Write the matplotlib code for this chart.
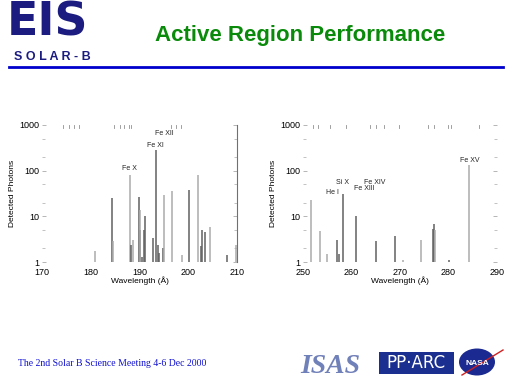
import matplotlib
matplotlib.use("Agg")
import matplotlib.pyplot as plt
from matplotlib.patches import Rectangle, Circle

plt.rcParams['font.family'] = ['Liberation Sans', 'DejaVu Sans']

# ---- data: left panel (170-210 A) ----
left_wl = [180.8, 184.4, 184.6, 188.1, 188.2, 188.7, 189.9, 190.0, 190.1, 190.5,
           191.0, 191.2, 192.8, 193.4, 193.7, 194.1, 194.9, 195.1, 196.6, 198.7,
           200.1, 202.1, 202.6, 202.8, 203.4, 204.5, 207.9, 209.7]
left_cnt = [1.7, 25, 2.9, 80, 2.4, 3.1, 26, 4.9, 14, 1.3,
            4.9, 10.3, 3.4, 280, 2.3, 1.6, 2.0, 29, 36, 1.4,
            38, 80, 2.2, 5.0, 4.6, 5.9, 1.4, 2.3]
left_shade = ['l', 'd', 'l', 'l', 'd', 'l', 'd', 'd', 'l', 'd',
              'd', 'd', 'd', 'd', 'd', 'd', 'd', 'l', 'l', 'l',
              'd', 'l', 'd', 'd', 'd', 'l', 'd', 'l']
left_labels = ['Fe X', 'Fe XI', 'Fe XII']
left_label_wl = [187.9, 193.2, 195.0]
left_label_y = [110, 360, 650]
left_top_marks = [174.4, 175.5, 176.5, 177.5, 184.8, 185.9, 186.9, 187.8, 188.2, 196.5, 197.4, 198.5]

# ---- data: right panel (250-290 A) ----
right_wl = [251.7, 253.6, 254.9, 257.0, 257.4, 258.3, 261.0, 265.0, 268.9, 274.3,
            276.9, 277.1, 277.3, 284.3, 280.0, 270.7]
right_cnt = [23, 4.8, 1.5, 3.0, 1.5, 31, 10, 2.9, 3.7, 3.0,
             5.2, 6.8, 5.0, 130, 1.1, 1.1]
right_shade = ['l', 'l', 'l', 'd', 'd', 'd', 'd', 'd', 'd', 'l',
               'd', 'd', 'l', 'l', 'd', 'l']
right_labels = ['He I', 'Si X', 'Fe XIII', 'Fe XIV', 'Fe XV']
right_label_wl = [256.1, 258.2, 262.6, 264.7, 284.3]
right_label_y = [33, 54, 40, 55, 170]
right_top_marks = [252.0, 253.0, 255.5, 258.8, 263.9, 265.0, 266.7, 269.8, 275.7, 277.1, 279.9, 280.6, 286.2]

DARK = '#606060'
LIGHT = '#ababab'

fig = plt.figure(figsize=(5.12, 3.84), dpi=100)
fig.patch.set_facecolor('white')

# ---- header ----
fig.text(7 / 512, 1 - 36 / 384, 'EIS', fontsize=33, fontweight='bold', color='#1c1c80',
         ha='left', va='baseline', family=['DejaVu Sans'])
fig.text(52 / 512, 1 - 60 / 384, 'S O L A R - B', fontsize=9, fontweight='bold', color='#1c1c80',
         ha='center', va='baseline')
fig.text(300 / 512, 1 - 41 / 384, 'Active Region Performance', fontsize=16, fontweight='bold',
         color='#0a8a0a', ha='center', va='baseline')
fig.add_artist(plt.Line2D([9 / 512, 503 / 512], [1 - 66.5 / 384] * 2, color='#0000cc', lw=2,
                          transform=fig.transFigure))

# ---- footer ----
fig.text(18 / 512, 1 - 366 / 384, 'The 2nd Solar B Science Meeting 4-6 Dec 2000', fontsize=7,
         color='#1010d0', family=['Liberation Serif'], ha='left', va='baseline')
fig.text(330 / 512, 1 - 373 / 384, 'ISAS', fontsize=20, style='italic', fontweight='bold',
         color='#7080b8', ha='center', va='baseline', family=['Liberation Serif'])
fig.add_artist(Rectangle((379 / 512, 1 - 374 / 384), 75 / 512, 22 / 384, transform=fig.transFigure,
                         facecolor='#1a2f8f', edgecolor='none'))
fig.text(416 / 512, 1 - 368 / 384, 'PP·ARC', fontsize=12, color='white', ha='center',
         va='baseline', family=['DejaVu Sans'])
fig.add_artist(Circle((477 / 512, 1 - 362 / 384), 18 / 512, transform=fig.transFigure,
                      facecolor='#1a2a90', edgecolor='none'))
fig.text(477 / 512, 1 - 365 / 384, 'NASA', fontsize=6, fontweight='bold', color='white',
         ha='center', va='baseline')
fig.add_artist(plt.Line2D([462 / 512, 503 / 512], [1 - 375 / 384, 1 - 350 / 384], color='#d02020',
                          lw=1, transform=fig.transFigure))


def panel(rect, wl, cnt, shade, labels, lwl, ly, marks, xlim, xticks, right_spine):
    ax = fig.add_axes(rect)
    for w, c, s in zip(wl, cnt, shade):
        ax.plot([w, w], [1, c], color=DARK if s == 'd' else LIGHT, lw=1.1, solid_capstyle='butt')
    ax.axhline(1, color='#c8c8c8', lw=0.6)
    for m in marks:
        ax.plot([m, m], [850, 1000], color='#909090', lw=0.6)
    for t, w, y in zip(labels, lwl, ly):
        ax.text(w, y, t, fontsize=5, ha='center', va='center', color='#222222')
    ax.set_yscale('log')
    ax.set_ylim(1, 1000)
    ax.set_xlim(*xlim)
    ax.set_xticks(xticks)
    ax.set_yticks([1, 10, 100, 1000])
    ax.set_yticklabels(['1', '10', '100', '1000'])
    ax.set_yticks([2, 5, 20, 50, 200, 500], minor=True)
    ax.tick_params(axis='y', which='major', direction='in', length=3, width=0.5, color='#999999',
                   labelsize=6.5, right=True, pad=2)
    ax.tick_params(axis='y', which='minor', direction='in', length=2, width=0.5, color='#aaaaaa',
                   labelleft=False, right=True)
    ax.tick_params(axis='x', length=0, labelsize=6.5, pad=4)
    for sp in ['top', 'left', 'bottom']:
        ax.spines[sp].set_visible(False)
    if right_spine:
        ax.spines['right'].set_color('#707070')
        ax.spines['right'].set_linewidth(0.8)
    else:
        ax.spines['right'].set_visible(False)
    ax.set_xlabel('Wavelength (Å)', fontsize=6, labelpad=0)
    ax.set_ylabel('Detected Photons', fontsize=6, labelpad=2)
    return ax


panel([42 / 512, 1 - 262 / 384, 195 / 512, 137 / 384], left_wl, left_cnt, left_shade,
      left_labels, left_label_wl, left_label_y, left_top_marks, (170, 210),
      [170, 180, 190, 200, 210], True)
panel([303 / 512, 1 - 262 / 384, 194 / 512, 137 / 384], right_wl, right_cnt, right_shade,
      right_labels, right_label_wl, right_label_y, right_top_marks, (250, 290),
      [250, 260, 270, 280, 290], False)

fig.savefig('out.png', dpi=100, facecolor='white')
